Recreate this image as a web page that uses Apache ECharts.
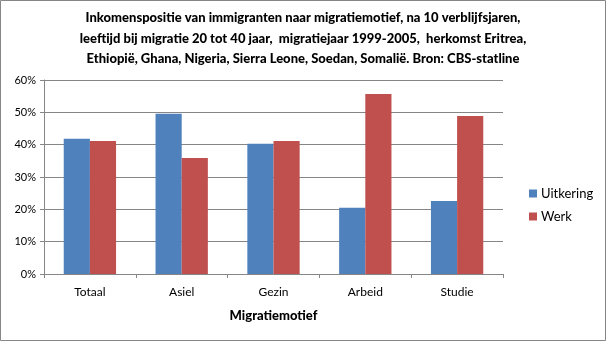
<!DOCTYPE html>
<html>
<head>
<meta charset="utf-8">
<script src="https://cdn.jsdelivr.net/npm/echarts@6/dist/echarts.min.js"></script>
<style>
  html, body { margin: 0; padding: 0; background: #fff; }
  #chart { width: 606px; height: 341px; }
</style>
</head>
<body>
<div id="chart"></div>
<script>
// Migratiemotief categories and income position shares (%)
const categories = ['Totaal', 'Asiel', 'Gezin', 'Arbeid', 'Studie'];
const uitkering = [41.8, 49.6, 40.3, 20.5, 22.6];
const werk = [41.1, 35.9, 41.1, 55.7, 48.9];
const seriesNames = ['Uitkering', 'Werk'];
const titleText = 'Inkomenspositie van immigranten naar migratiemotief, na 10 verblijfsjaren,\n' +
  'leeftijd bij migratie 20 tot 40 jaar,  migratiejaar 1999-2005,  herkomst Eritrea,\n' +
  'Ethiopië, Ghana, Nigeria, Sierra Leone, Soedan, Somalië. Bron: CBS-statline';

const font = 'Lato, "Open Sans", sans-serif';
const gray = '#868686';

const chart = echarts.init(document.getElementById('chart'), null, { renderer: 'canvas' });
chart.setOption({
  animation: false,
  backgroundColor: '#fff',
  textStyle: { fontFamily: font },
  title: {
    text: titleText,
    left: 'center',
    top: 3,
    textStyle: { fontFamily: font, fontSize: 13, fontWeight: 900, color: '#000', lineHeight: 20.5 }
  },
  legend: {
    orient: 'vertical',
    left: 524,
    top: 182,
    itemWidth: 8,
    itemHeight: 8,
    itemGap: 10,
    icon: 'rect',
    textStyle: { fontFamily: font, fontSize: 13, color: '#000', padding: [0, 0, 0, -1] },
    data: seriesNames
  },
  grid: { left: 44, right: 103, top: 80, bottom: 67, containLabel: false },
  xAxis: {
    type: 'category',
    data: categories,
    name: 'Migratiemotief',
    nameLocation: 'middle',
    nameGap: 35,
    nameTextStyle: { fontFamily: font, fontSize: 13, fontWeight: 900, color: '#000' },
    axisLine: { lineStyle: { color: gray, width: 1 } },
    axisTick: { show: true, alignWithLabel: false, length: 4, lineStyle: { color: gray } },
    axisLabel: { fontFamily: font, fontSize: 12, color: '#000', margin: 12 }
  },
  yAxis: {
    type: 'value',
    min: 0,
    max: 60,
    interval: 10,
    axisLine: { show: true, lineStyle: { color: gray, width: 1 } },
    axisTick: { show: true, length: 4, lineStyle: { color: gray } },
    axisLabel: { fontFamily: font, fontSize: 11, color: '#000', margin: 8, formatter: '{value}%' },
    splitLine: { show: true, lineStyle: { color: gray, width: 1 } }
  },
  series: [
    {
      name: seriesNames[0],
      type: 'bar',
      data: uitkering,
      itemStyle: { color: '#4F81BD' },
      barGap: '0%',
      barCategoryGap: '43%'
    },
    {
      name: seriesNames[1],
      type: 'bar',
      data: werk,
      itemStyle: { color: '#C0504D' },
      barGap: '0%',
      barCategoryGap: '43%'
    }
  ],
  graphic: [{
    type: 'rect',
    silent: true,
    shape: { x: 0.5, y: 0.5, width: 605, height: 340 },
    style: { fill: 'none', stroke: gray, lineWidth: 1 }
  }]
});
</script>
</body>
</html>
